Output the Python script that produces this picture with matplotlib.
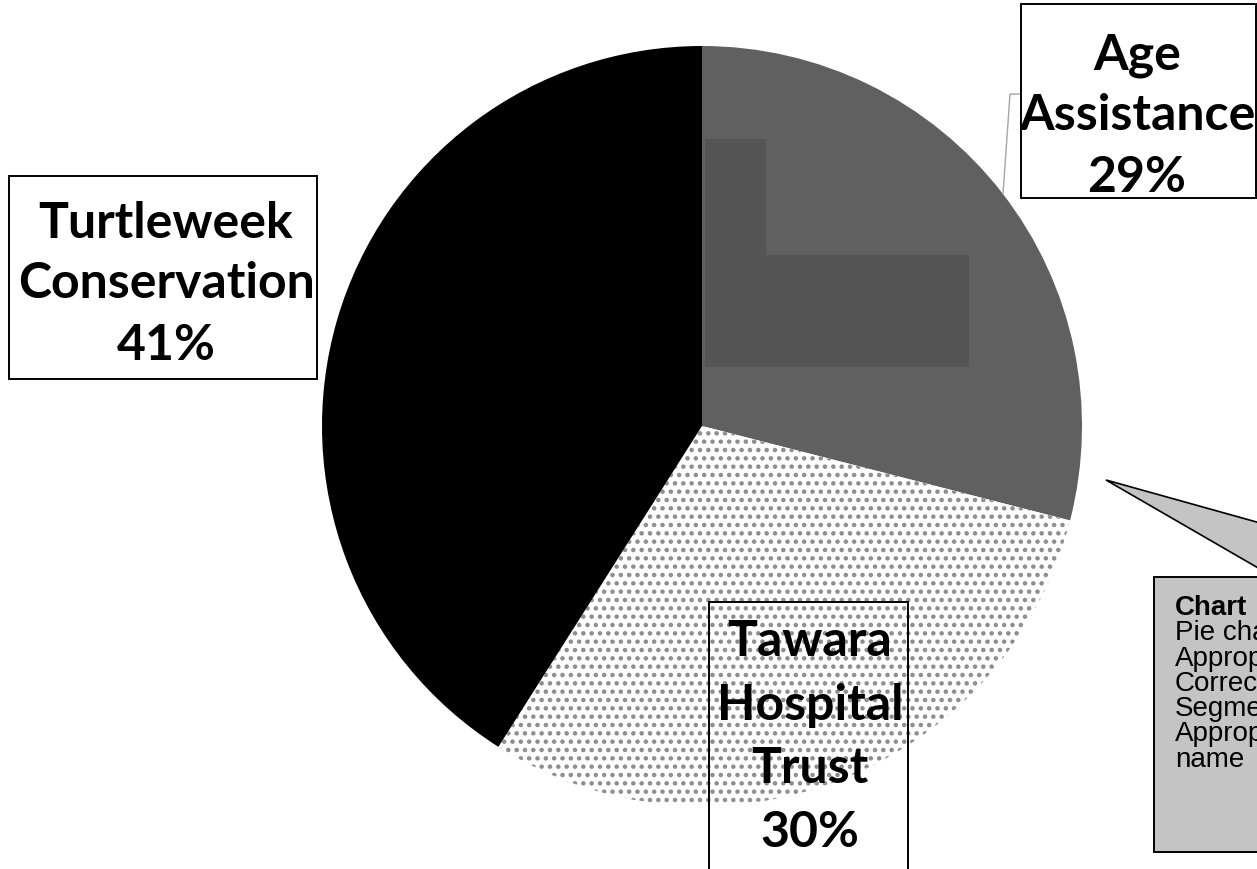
import matplotlib
matplotlib.use("Agg")
import matplotlib.pyplot as plt
from matplotlib.patches import Rectangle, Polygon

# chart values
names = ["Age Assistance", "Tawara Hospital Trust", "Turtleweek Conservation"]
shares = [29, 30, 41]
slice_colors = ["#606060", "#ffffff", "#000000"]
checklist = ["Chart", "Pie chart", "Appropriate", "Correct", "Segments", "Appropriate", "name"]

W, H = 1257, 870
plt.rcParams['hatch.color'] = '#8c8c8c'
plt.rcParams['hatch.linewidth'] = 2.0

fig = plt.figure(figsize=(W / 100, H / 100), dpi=100)
ax = fig.add_axes([0, 0, 1, 1])

def Y(y):
    return H - y

wedges, _ = ax.pie(shares, colors=slice_colors, startangle=90, counterclock=False,
                   center=(702, Y(427)), radius=380, wedgeprops=dict(linewidth=0))
wedges[1].set_hatch('..')
wedges[1].set_edgecolor('#8c8c8c')
wedges[1].set_linewidth(0)

# darker pasted patch inside the grey slice
ax.add_patch(Polygon([(705, Y(140)), (766, Y(140)), (766, Y(256)), (969, Y(256)),
                      (969, Y(368)), (705, Y(368))], closed=True,
                     facecolor='#555555', edgecolor='none', zorder=2))

lab_font = dict(family='Lato', fontweight='bold', fontsize=36, color='black',
                ha='center', va='center', zorder=6)

def label_box(x0, y0, x1, y1, cx, cy, step, lines, fill):
    ax.add_patch(Rectangle((x0, Y(y1)), x1 - x0, y1 - y0,
                           facecolor=fill, edgecolor='black', linewidth=1.4, zorder=5))
    for i, s in enumerate(lines):
        ax.text(cx, Y(cy + i * step), s, **lab_font)

def lines_for(i):
    return names[i].split() + ["%d%%" % shares[i]]

# leader line for Age Assistance
ax.plot([1021, 1010, 1003], [Y(95), Y(95), Y(195)], color='#a6a6a6', lw=1, zorder=4)

label_box(1021, 5, 1256, 199, 1137, 55, 61, lines_for(0), 'white')
label_box(709, 603, 908, 900, 810, 642, 63.5, lines_for(1), 'none')
label_box(9, 177, 317, 380, 166, 223, 61, lines_for(2), 'white')

# callout
ax.add_patch(Polygon([(1106, Y(481)), (1400, Y(563)), (1400, Y(651))], closed=True,
                     facecolor='#c4c4c4', edgecolor='black', linewidth=1.2, zorder=7))
ax.add_patch(Rectangle((1154, Y(853)), 300, 853 - 578, facecolor='#c4c4c4',
                       edgecolor='black', linewidth=1.4, zorder=8))
for i, s in enumerate(checklist):
    ax.text(1175, Y(608 + i * 25.3), s, family='Liberation Sans', fontsize=20,
            fontweight='bold' if i == 0 else 'normal', ha='left', va='center', zorder=9)

ax.set_xlim(0, W)
ax.set_ylim(0, H)
ax.set_aspect('equal')
ax.axis('off')
fig.savefig('out.png', dpi=100)
